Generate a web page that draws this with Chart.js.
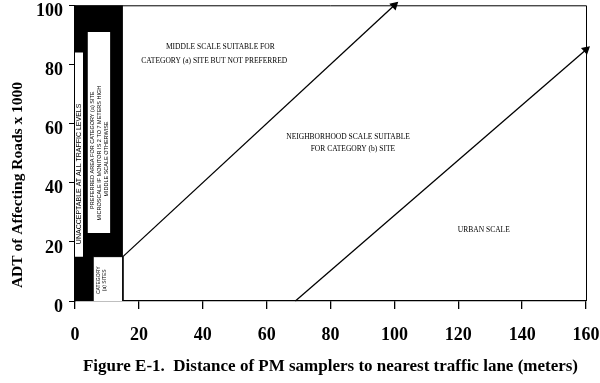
<!DOCTYPE html>
<html>
<head>
<meta charset="utf-8">
<script src="https://cdn.jsdelivr.net/npm/chart.js@4.4.1/dist/chart.umd.min.js"></script>
<style>
  html, body { margin: 0; padding: 0; background: #fff; }
  #wrap { width: 600px; height: 383px; }
</style>
</head>
<body>
<div id="wrap"><canvas id="siting"></canvas></div>
<script>
// axis ticks
let xTicks = [0, 20, 40, 60, 80, 100, 120, 140, 160];
let yTicks = [0, 20, 40, 60, 80, 100];

// zones (distance m, ADT x1000)
let unacceptableZone = [{x: 0, y: 0}, {x: 0, y: 100}, {x: 15, y: 100}, {x: 15, y: 0}];
let unacceptableStrip = [{x: 0, y: 15}, {x: 0, y: 84}, {x: 2.5, y: 84}, {x: 2.5, y: 15}];
let preferredZone = [{x: 4, y: 23}, {x: 4, y: 91}, {x: 11, y: 91}, {x: 11, y: 23}];
let categoryZone = [{x: 5.7, y: 0}, {x: 5.7, y: 15}, {x: 15, y: 15}, {x: 15, y: 0}];

// boundary lines
let middleScaleLine = [{x: 15, y: 15}, {x: 100, y: 100}];
let urbanScaleLine = [{x: 69, y: 0}, {x: 160, y: 85}];

// text in the plot
let zoneLabels = [
  {x: 45.5, y: 86, text: "MIDDLE SCALE SUITABLE FOR"},
  {x: 43.6, y: 81.3, text: "CATEGORY (a) SITE BUT NOT PREFERRED"},
  {x: 85.5, y: 55.4, text: "NEIGHBORHOOD SCALE SUITABLE"},
  {x: 87, y: 51.4, text: "FOR CATEGORY (b) SITE"},
  {x: 128, y: 24, text: "URBAN SCALE"}
];
let verticalLabels = [
  {x: 1.2, y: 43, text: "UNACCEPTABLE AT ALL TRAFFIC LEVELS", size: 7},
  {x: 5.6, y: 51, text: "PREFERRED AREA FOR CATEGORY (a) SITE", size: 5.5},
  {x: 7.8, y: 50, text: "MICROSCALE IF MONITOR IS 2 TO 7 METERS HIGH", size: 5.5},
  {x: 10, y: 48, text: "MIDDLE SCALE OTHERWISE", size: 5.5},
  {x: 7.3, y: 7, text: "CATEGORY", size: 5},
  {x: 9.2, y: 7, text: "(a) SITES", size: 5}
];

let yTitle = "ADT of Affecting Roads x 1000";
let caption = "Figure E-1.  Distance of PM samplers to nearest traffic lane (meters)";

function zone(points, color, order, border) {
  return {
    type: "line",
    data: points,
    backgroundColor: color,
    borderColor: "#000",
    borderWidth: border,
    pointRadius: 0,
    fill: "shape",
    order: order
  };
}

function arrowLine(points, angle) {
  return {
    type: "line",
    data: points,
    borderColor: "#000",
    backgroundColor: "#000",
    borderWidth: 1.3,
    pointRadius: [0, 4],
    pointStyle: "triangle",
    pointRotation: [0, angle],
    fill: false,
    clip: false,
    order: 1
  };
}

let textPlugin = {
  id: "texts",
  afterDatasetsDraw(chart) {
    let ctx = chart.ctx;
    let xs = chart.scales.x, ys = chart.scales.y;
    ctx.save();
    ctx.fillStyle = "#000";
    ctx.textAlign = "center";
    ctx.textBaseline = "middle";
    ctx.font = "7.5px 'Liberation Serif'";
    zoneLabels.forEach(function (l) {
      ctx.fillText(l.text, xs.getPixelForValue(l.x), ys.getPixelForValue(l.y));
    });
    verticalLabels.forEach(function (l) {
      ctx.save();
      ctx.translate(xs.getPixelForValue(l.x), ys.getPixelForValue(l.y));
      ctx.rotate(-Math.PI / 2);
      ctx.font = l.size + "px 'Liberation Sans'";
      ctx.fillText(l.text, 0, 0);
      ctx.restore();
    });
    ctx.restore();
  },
  afterDraw(chart) {
    let ctx = chart.ctx;
    let a = chart.chartArea;
    ctx.save();
    ctx.strokeStyle = "#000";
    ctx.lineWidth = 1;
    ctx.beginPath();
    ctx.moveTo(a.left, a.top + 0.5);
    ctx.lineTo(a.right + 0.5, a.top + 0.5);
    ctx.lineTo(a.right + 0.5, a.bottom);
    ctx.stroke();
    // y axis title
    ctx.translate(18, 185);
    ctx.rotate(-Math.PI / 2);
    ctx.font = "bold 15.5px 'Liberation Serif'";
    ctx.textAlign = "center";
    ctx.textBaseline = "middle";
    ctx.fillStyle = "#000";
    ctx.fillText(yTitle, 0, 0);
    ctx.restore();
  }
};

new Chart("siting", {
  type: "scatter",
  data: {
    datasets: [
      zone(unacceptableZone, "#000", 6, 0),
      zone(unacceptableStrip, "#fff", 5, 0),
      zone(preferredZone, "#fff", 5, 0),
      zone(categoryZone, "#fff", 4, 1),
      arrowLine(middleScaleLine, 47),
      arrowLine(urbanScaleLine, 49)
    ]
  },
  plugins: [textPlugin],
  options: {
    responsive: true,
    maintainAspectRatio: false,
    animation: false,
    layout: {padding: {top: 2, right: 14, left: 0, bottom: 0}},
    plugins: {legend: {display: false}, tooltip: {enabled: false}},
    scales: {
      x: {
        type: "linear",
        min: 0,
        max: 160,
        afterBuildTicks(scale) {
          scale.ticks = xTicks.map(v => ({value: v}));
        },
        afterFit(scale) {
          scale.height = 82;
          scale.paddingLeft = 0;
          scale.paddingRight = 0;
        },
        grid: {drawOnChartArea: false, color: "#000", tickLength: 8, lineWidth: 1.3},
        border: {display: true, color: "#000", width: 1.3},
        ticks: {
          color: "#000",
          padding: 16,
          maxRotation: 0,
          font: {family: "'Liberation Serif'", size: 18, weight: "bold"}
        },
        title: {
          display: true,
          text: caption,
          color: "#000",
          padding: {top: 0, bottom: 6},
          font: {family: "'Liberation Serif'", size: 17, weight: "bold"}
        }
      },
      y: {
        type: "linear",
        min: 0,
        max: 100,
        afterBuildTicks(scale) {
          scale.ticks = yTicks.map(v => ({value: v}));
        },
        afterFit(scale) {
          scale.width = 75;
          scale.paddingTop = 0;
          scale.paddingBottom = 0;
        },
        grid: {drawOnChartArea: false, color: "#000", tickLength: 6},
        border: {display: true, color: "#000", width: 1.3},
        ticks: {
          color: "#000",
          padding: 6,
          labelOffset: 6,
          font: {family: "'Liberation Serif'", size: 18, weight: "bold"}
        }
      }
    }
  }
});
</script>
</body>
</html>
